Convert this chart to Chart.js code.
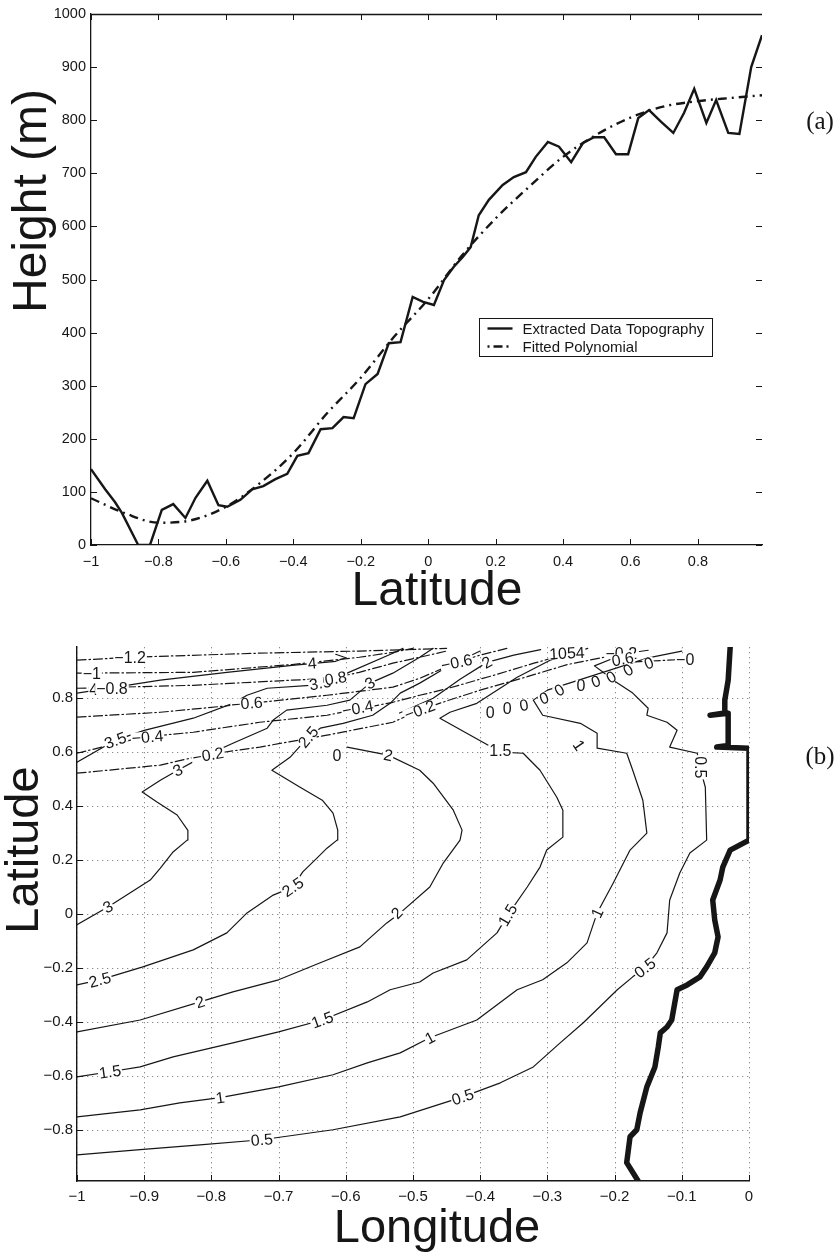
<!DOCTYPE html>
<html>
<head>
<meta charset="utf-8">
<script src="https://cdn.jsdelivr.net/npm/chart.js@4.4.1/dist/chart.umd.min.js"></script>
<style>
  html, body { margin: 0; padding: 0; background: #fff; }
  #wrap { position: relative; width: 840px; height: 1253px; }
  #chartA { position: absolute; left: 0; top: 0; width: 840px; height: 620px; }
  #chartB { position: absolute; left: 0; top: 620px; width: 840px; height: 633px; }
</style>
</head>
<body>
<div id="wrap">
  <canvas id="chartA" width="840" height="620"></canvas>
  <canvas id="chartB" width="840" height="633"></canvas>
</div>
<script>
const FONT = '"Liberation Sans", Arial, Helvetica, sans-serif';
const SERIF = '"Liberation Serif", "DejaVu Serif", serif';
const INK = '#161616';

// ---- panel (a): topography along latitude ----
const topoLat = [-1, -0.958, -0.929, -0.908, -0.86, -0.825, -0.79, -0.756, -0.72, -0.69,
  -0.655, -0.622, -0.596, -0.557, -0.522, -0.489, -0.453, -0.418, -0.388, -0.355,
  -0.319, -0.284, -0.251, -0.221, -0.186, -0.15, -0.117, -0.082, -0.046, -0.015,
  0.017, 0.047, 0.076, 0.102, 0.126, 0.15, 0.18, 0.221, 0.254, 0.29,
  0.319, 0.355, 0.388, 0.424, 0.459, 0.492, 0.522, 0.557, 0.593, 0.623,
  0.655, 0.691, 0.727, 0.759, 0.789, 0.825, 0.854, 0.89, 0.923, 0.958, 0.99];
const topoHeight = [143, 105, 81, 60, 0, 0, 66, 77, 51, 89,
  121, 75, 72, 85, 105, 111, 124, 134, 168, 173,
  218, 220, 241, 239, 303, 322, 380, 382, 467, 458,
  452, 499, 524, 542, 561, 621, 650, 678, 693, 702,
  731, 759, 750, 721, 757, 768, 768, 736, 736, 804,
  819, 797, 776, 814, 859, 795, 838, 776, 774, 900, 960];
const polyLat = [-1, -0.9, -0.8, -0.7, -0.6, -0.5, -0.4, -0.3, -0.2, -0.1, 0,
  0.1, 0.2, 0.3, 0.4, 0.5, 0.6, 0.7, 0.8, 0.9, 0.99];
const polyHeight = [88, 60, 42, 47, 72, 116, 173, 248, 315, 393, 463,
  545, 615, 675, 731, 773, 805, 826, 836, 842, 847];
const heightTicks = [0, 100, 200, 300, 400, 500, 600, 700, 800, 900, 1000];
const latTicksA = [-1, -0.8, -0.6, -0.4, -0.2, 0, 0.2, 0.4, 0.6, 0.8];

// ---- panel (b): contours over longitude / latitude ----
const lonTicks = [-1, -0.9, -0.8, -0.7, -0.6, -0.5, -0.4, -0.3, -0.2, -0.1, 0];
const latTicksB = [-0.8, -0.6, -0.4, -0.2, 0, 0.2, 0.4, 0.6, 0.8];

const contour4 = [[-1, 0.819], [-0.876, 0.867], [-0.777, 0.896], [-0.68, 0.922], [-0.615, 0.937], [-0.6, 0.95], [-0.615, 0.963]];
const contour35 = [[-1, 0.563], [-0.943, 0.644], [-0.9, 0.681], [-0.827, 0.726], [-0.768, 0.781], [-0.747, 0.811],
  [-0.717, 0.837], [-0.653, 0.848], [-0.62, 0.86], [-0.598, 0.893], [-0.53, 0.967], [-0.515, 0.985]];
const contour3 = [[-1, -0.04], [-0.954, 0.026], [-0.891, 0.126], [-0.876, 0.17], [-0.857, 0.23], [-0.836, 0.274],
  [-0.835, 0.31], [-0.851, 0.367], [-0.881, 0.415], [-0.903, 0.452], [-0.876, 0.496], [-0.85, 0.533],
  [-0.817, 0.578], [-0.768, 0.633], [-0.717, 0.689], [-0.708, 0.719], [-0.688, 0.756], [-0.628, 0.774],
  [-0.594, 0.793], [-0.564, 0.856], [-0.53, 0.893], [-0.49, 0.952], [-0.47, 0.985]];
const contour25 = [[-1, -0.263], [-0.966, -0.244], [-0.902, -0.196], [-0.827, -0.133], [-0.777, -0.07], [-0.747, 0.004],
  [-0.708, 0.07], [-0.679, 0.1], [-0.664, 0.156], [-0.643, 0.207], [-0.628, 0.244], [-0.613, 0.274], [-0.612, 0.311],
  [-0.619, 0.374], [-0.635, 0.422], [-0.668, 0.47], [-0.71, 0.533], [-0.683, 0.581], [-0.656, 0.656], [-0.638, 0.689],
  [-0.604, 0.707], [-0.56, 0.737], [-0.534, 0.781], [-0.519, 0.819], [-0.49, 0.856], [-0.46, 0.9], [-0.43, 0.94], [-0.4, 0.975]];
const contour2 = [[-1, -0.437], [-0.906, -0.393], [-0.817, -0.326], [-0.768, -0.289], [-0.7, -0.244], [-0.638, -0.181],
  [-0.579, -0.122], [-0.539, -0.033], [-0.519, 0.004], [-0.475, 0.1], [-0.455, 0.189], [-0.43, 0.274], [-0.427, 0.311],
  [-0.44, 0.385], [-0.47, 0.485], [-0.49, 0.533], [-0.537, 0.589], [-0.598, 0.619]];
const contour2top = [[-0.52, 0.745], [-0.47, 0.8], [-0.43, 0.87], [-0.39, 0.933], [-0.35, 0.96], [-0.31, 0.98]];
const contour15 = [[-1, -0.604], [-0.951, -0.585], [-0.906, -0.567], [-0.857, -0.53], [-0.768, -0.478], [-0.7, -0.437],
  [-0.635, -0.393], [-0.568, -0.326], [-0.534, -0.281], [-0.49, -0.252], [-0.47, -0.219], [-0.42, -0.17], [-0.375, -0.07],
  [-0.359, -0.004], [-0.33, 0.1], [-0.311, 0.174], [-0.301, 0.237], [-0.277, 0.285], [-0.277, 0.385], [-0.286, 0.433],
  [-0.311, 0.533], [-0.336, 0.596], [-0.37, 0.6], [-0.388, 0.626], [-0.46, 0.726], [-0.445, 0.748], [-0.405, 0.781],
  [-0.375, 0.83], [-0.345, 0.878], [-0.296, 0.941], [-0.262, 0.967], [-0.24, 0.985]];
const contour1 = [[-1, -0.752], [-0.906, -0.726], [-0.847, -0.7], [-0.787, -0.681], [-0.7, -0.641], [-0.619, -0.596],
  [-0.568, -0.552], [-0.519, -0.515], [-0.475, -0.459], [-0.405, -0.393], [-0.345, -0.281], [-0.307, -0.244],
  [-0.271, -0.181], [-0.241, -0.107], [-0.226, 0.004], [-0.202, 0.115], [-0.177, 0.237], [-0.152, 0.3], [-0.158, 0.422],
  [-0.173, 0.533], [-0.182, 0.596], [-0.226, 0.615], [-0.226, 0.67], [-0.251, 0.707], [-0.307, 0.737], [-0.321, 0.793],
  [-0.3, 0.83], [-0.25, 0.87], [-0.2, 0.91], [-0.15, 0.95], [-0.1, 0.975]];
const contour05 = [[-1, -0.893], [-0.906, -0.874], [-0.817, -0.856], [-0.725, -0.837], [-0.619, -0.8], [-0.519, -0.752],
  [-0.426, -0.678], [-0.37, -0.626], [-0.321, -0.567], [-0.281, -0.478], [-0.247, -0.404], [-0.222, -0.344],
  [-0.196, -0.281], [-0.173, -0.233], [-0.155, -0.2], [-0.137, -0.144], [-0.122, -0.07], [-0.118, 0.052],
  [-0.103, 0.152], [-0.088, 0.226], [-0.063, 0.274], [-0.065, 0.47], [-0.073, 0.544], [-0.077, 0.596],
  [-0.118, 0.619], [-0.107, 0.681], [-0.122, 0.711], [-0.152, 0.737], [-0.15, 0.763], [-0.173, 0.819],
  [-0.202, 0.867], [-0.217, 0.896], [-0.23, 0.92], [-0.2, 0.95], [-0.17, 0.97]];

const negative12 = [[-1, 0.941], [-0.92, 0.952], [-0.73, 0.967], [-0.58, 0.975], [-0.45, 0.985]];
const negative10 = [[-1, 0.893], [-0.827, 0.896], [-0.68, 0.925], [-0.58, 0.952], [-0.53, 0.97], [-0.5, 0.985]];
const negative08 = [[-1, 0.837], [-0.827, 0.848], [-0.68, 0.867], [-0.62, 0.874], [-0.58, 0.896], [-0.53, 0.93],
  [-0.49, 0.952], [-0.45, 0.975]];
const negative06 = [[-1, 0.73], [-0.876, 0.748], [-0.768, 0.774], [-0.628, 0.811], [-0.53, 0.841], [-0.49, 0.874],
  [-0.435, 0.933], [-0.4, 0.96], [-0.36, 0.985]];
const negative04 = [[-1, 0.596], [-0.902, 0.656], [-0.827, 0.674], [-0.728, 0.711], [-0.628, 0.737], [-0.53, 0.785],
  [-0.49, 0.811], [-0.45, 0.835], [-0.38, 0.885], [-0.32, 0.93], [-0.27, 0.965], [-0.24, 0.985]];
const negative02 = [[-1, 0.522], [-0.876, 0.552], [-0.812, 0.589], [-0.728, 0.619], [-0.628, 0.663], [-0.53, 0.711],
  [-0.49, 0.756], [-0.45, 0.79], [-0.4, 0.83], [-0.33, 0.88], [-0.27, 0.925], [-0.2, 0.96], [-0.15, 0.978]];
const negative00 = [[-0.17, 0.935], [-0.13, 0.94], [-0.09, 0.945]];

const coastline = [[-0.165, -0.99], [-0.182, -0.922], [-0.177, -0.826], [-0.167, -0.8], [-0.162, -0.737],
  [-0.152, -0.641], [-0.14, -0.567], [-0.135, -0.493], [-0.132, -0.441], [-0.122, -0.419], [-0.115, -0.393],
  [-0.107, -0.281], [-0.092, -0.263], [-0.073, -0.233], [-0.063, -0.196], [-0.051, -0.144], [-0.046, -0.085],
  [-0.051, -0.022], [-0.054, 0.052], [-0.043, 0.126], [-0.039, 0.174], [-0.028, 0.237], [0, 0.274], [0, 0.615],
  [-0.048, 0.619], [-0.031, 0.625], [-0.031, 0.744], [-0.058, 0.737], [-0.036, 0.745], [-0.036, 0.793],
  [-0.031, 0.867], [-0.028, 0.99]];

// text, lon, lat, rotation (deg)
const contourLabels = [
  ['3', -0.954, 0.026, -28], ['2.5', -0.966, -0.244, -15], ['2', -0.817, -0.326, -18],
  ['1.5', -0.951, -0.585, -8], ['1.5', -0.635, -0.393, -20], ['1', -0.787, -0.681, -8],
  ['0.5', -0.725, -0.837, -5], ['1', -0.475, -0.459, -28], ['0.5', -0.426, -0.678, -18],
  ['0.5', -0.155, -0.2, -38], ['2.5', -0.679, 0.1, -35], ['2', -0.524, 0.004, -45],
  ['1.5', -0.359, -0.004, -60], ['1', -0.226, 0.004, -65],
  ['\u22121.2', -0.921, 0.952, 0], ['\u22121', -0.978, 0.893, 0], ['4', -0.975, 0.833, 0],
  ['\u22120.8', -0.948, 0.837, 0], ['3.5', -0.943, 0.644, -20], ['\u22120.4', -0.895, 0.656, -5],
  ['3', -0.85, 0.533, -25], ['\u22120.2', -0.805, 0.589, -10], ['\u22120.6', -0.747, 0.781, -5],
  ['4', -0.65, 0.93, -5], ['3.5', -0.638, 0.856, -10], ['0.8', -0.615, 0.874, -10],
  ['3', -0.564, 0.856, -30], ['2.5', -0.656, 0.656, -50], ['\u22120.4', -0.582, 0.763, -10],
  ['0', -0.613, 0.589, 0], ['2', -0.537, 0.589, 12], ['\u22120.6', -0.435, 0.933, -12],
  ['2', -0.39, 0.933, -30], ['\u22120.2', -0.49, 0.756, -20], ['1.5', -0.37, 0.607, 0],
  ['0.5', -0.073, 0.544, 90], ['1', -0.253, 0.626, 55], ['1054', -0.271, 0.967, -3],
  ['\u22120.2', -0.19, 0.967, 0], ['0.6', -0.188, 0.945, -10], ['0', -0.149, 0.93, -20],
  ['\u22120', -0.095, 0.944, 0],
  ['0', -0.385, 0.748, 0], ['0', -0.36, 0.763, 0], ['0', -0.335, 0.774, -10], ['0', -0.305, 0.8, -20],
  ['0', -0.282, 0.83, -30], ['0', -0.25, 0.848, 0], ['0', -0.228, 0.862, -20], ['0', -0.205, 0.878, -30],
  ['0', -0.18, 0.904, -30]
];

function fmt(v) {
  const s = String(Math.round(v * 1000) / 1000);
  return s.replace('-', '\u2212');
}
function toXY(pts) { return pts.map(([x, y]) => ({ x, y })); }
function seg(ctx, x1, y1, x2, y2) { ctx.beginPath(); ctx.moveTo(x1, y1); ctx.lineTo(x2, y2); ctx.stroke(); }

// inward tick marks (MATLAB style), optional full box
function inwardTicks(len, box) {
  return {
    id: 'inwardTicks',
    afterDraw(chart) {
      const { ctx, chartArea: a, scales: { x, y } } = chart;
      ctx.save();
      ctx.strokeStyle = INK;
      ctx.lineWidth = 1;
      x.ticks.forEach(t => {
        const px = Math.round(x.getPixelForValue(t.value)) + 0.5;
        seg(ctx, px, a.bottom, px, a.bottom - len);
        if (box) seg(ctx, px, a.top, px, a.top + len);
      });
      y.ticks.forEach(t => {
        const py = Math.round(y.getPixelForValue(t.value)) + 0.5;
        seg(ctx, a.left, py, a.left + len, py);
        if (box) seg(ctx, a.right, py, a.right - len, py);
      });
      if (box) {
        ctx.lineWidth = 1.3;
        seg(ctx, a.left, a.top + 0.5, a.right, a.top + 0.5);
      }
      ctx.restore();
    }
  };
}

// free text: axis titles and panel letters
function panelText(items) {
  return {
    id: 'panelText',
    afterDraw(chart) {
      const ctx = chart.ctx;
      items.forEach(it => {
        ctx.save();
        ctx.fillStyle = INK;
        ctx.font = it.font;
        ctx.textAlign = 'center';
        ctx.textBaseline = it.baseline || 'alphabetic';
        ctx.translate(it.x, it.y);
        if (it.rot) ctx.rotate(it.rot);
        ctx.fillText(it.text, 0, 0);
        ctx.restore();
      });
    }
  };
}

const legendBox = {
  id: 'legendBox',
  afterDraw(chart) {
    const { ctx, chartArea: a } = chart;
    const x0 = a.left + 388.5, y0 = a.top + 304.5, w = 233, h = 38;
    ctx.save();
    ctx.fillStyle = '#fff';
    ctx.fillRect(x0, y0, w, h);
    ctx.strokeStyle = INK;
    ctx.lineWidth = 1;
    ctx.strokeRect(x0, y0, w, h);
    ctx.font = '15px ' + FONT;
    ctx.textBaseline = 'middle';
    chart.data.datasets.forEach((ds, i) => {
      const yy = y0 + 10 + i * 18;
      ctx.strokeStyle = ds.borderColor;
      ctx.lineWidth = ds.borderWidth;
      ctx.setLineDash(ds.borderDash ? [2, 4, 9, 4] : []);
      seg(ctx, x0 + 8, yy, x0 + 33, yy);
      ctx.setLineDash([]);
      ctx.fillStyle = INK;
      ctx.fillText(ds.label, x0 + 43, yy + 1);
    });
    ctx.restore();
  }
};

const contourText = {
  id: 'contourText',
  afterDatasetsDraw(chart) {
    const { ctx, scales: { x, y } } = chart;
    ctx.save();
    ctx.font = '16px ' + FONT;
    ctx.textAlign = 'center';
    ctx.textBaseline = 'middle';
    contourLabels.forEach(([txt, lon, lat, rot]) => {
      const px = x.getPixelForValue(lon), py = y.getPixelForValue(lat);
      const w = ctx.measureText(txt).width;
      ctx.save();
      ctx.translate(px, py);
      ctx.rotate(rot * Math.PI / 180);
      ctx.fillStyle = '#fff';
      ctx.fillRect(-w / 2 - 1, -5.5, w + 2, 11);
      ctx.fillStyle = INK;
      ctx.fillText(txt, 0, 1);
      ctx.restore();
    });
    ctx.restore();
  }
};

const dottedGrid = {
  id: 'dottedGrid',
  beforeDatasetsDraw(chart) {
    const { ctx, chartArea: a, scales: { x, y } } = chart;
    ctx.save();
    ctx.strokeStyle = '#8c8c8c';
    ctx.lineWidth = 1;
    ctx.setLineDash([1.3, 3.7]);
    x.ticks.forEach(t => {
      const px = Math.round(x.getPixelForValue(t.value)) + 0.5;
      seg(ctx, px, a.top, px, a.bottom);
    });
    y.ticks.forEach(t => {
      const py = Math.round(y.getPixelForValue(t.value)) + 0.5;
      seg(ctx, a.left, py, a.right, py);
    });
    ctx.restore();
  }
};

function axisTicks(values, size, pad) {
  return {
    padding: pad, autoSkip: false, maxRotation: 0, color: INK,
    font: { family: FONT, size: size },
    callback: v => fmt(v)
  };
}

// ---------- chart (a) ----------
new Chart(document.getElementById('chartA'), {
  type: 'line',
  data: {
    datasets: [
      {
        label: 'Extracted Data Topography',
        data: topoLat.map((v, i) => ({ x: v, y: topoHeight[i] })),
        borderColor: INK, borderWidth: 2.4, pointRadius: 0, tension: 0, fill: false
      },
      {
        label: 'Fitted Polynomial',
        data: polyLat.map((v, i) => ({ x: v, y: polyHeight[i] })),
        borderColor: INK, borderWidth: 2.4, borderDash: [9, 5, 2, 5], pointRadius: 0,
        cubicInterpolationMode: 'monotone', fill: false
      }
    ]
  },
  options: {
    responsive: false, animation: false, devicePixelRatio: 1,
    layout: { padding: { left: 0, top: 14, right: 78, bottom: 45 } },
    scales: {
      x: {
        type: 'linear', min: -1, max: 0.99,
        afterBuildTicks: s => { s.ticks = latTicksA.map(v => ({ value: v })); },
        afterFit: s => { s.height = 30; },
        grid: { display: false, drawTicks: false },
        border: { display: true, color: INK, width: 1.3 },
        ticks: axisTicks(latTicksA, 14.5, 8)
      },
      y: {
        type: 'linear', min: 0, max: 1000,
        afterBuildTicks: s => { s.ticks = heightTicks.map(v => ({ value: v })); },
        afterFit: s => { s.width = 91; },
        grid: { display: false, drawTicks: false },
        border: { display: true, color: INK, width: 1.3 },
        ticks: axisTicks(heightTicks, 14.5, 5)
      }
    },
    plugins: { legend: { display: false }, tooltip: { enabled: false } }
  },
  plugins: [
    inwardTicks(6, true),
    legendBox,
    panelText([
      { text: 'Height (m)', x: 46, y: 201, rot: -Math.PI / 2, font: '48px ' + FONT },
      { text: 'Latitude', x: 437, y: 605, font: '48px ' + FONT },
      { text: '(a)', x: 820, y: 122, baseline: 'middle', font: '25px ' + SERIF }
    ])
  ]
});

// ---------- chart (b) ----------
const contourSets = [
  { pts: contour4, kind: 'solid' }, { pts: contour35, kind: 'solid' }, { pts: contour3, kind: 'solid' },
  { pts: contour25, kind: 'solid' }, { pts: contour2, kind: 'solid' }, { pts: contour2top, kind: 'solid' },
  { pts: contour15, kind: 'solid' }, { pts: contour1, kind: 'solid' }, { pts: contour05, kind: 'solid' },
  { pts: negative12, kind: 'dash' }, { pts: negative10, kind: 'dash' }, { pts: negative08, kind: 'dash' },
  { pts: negative06, kind: 'dash' }, { pts: negative04, kind: 'dash' }, { pts: negative02, kind: 'dash' },
  { pts: negative00, kind: 'dash' },
  { pts: coastline, kind: 'coast' }
];

new Chart(document.getElementById('chartB'), {
  type: 'scatter',
  data: {
    datasets: contourSets.map(c => ({
      data: toXY(c.pts),
      showLine: true,
      borderColor: INK,
      borderWidth: c.kind === 'coast' ? 5.5 : 1.2,
      borderDash: c.kind === 'dash' ? [9, 3, 1.5, 3] : [],
      borderJoinStyle: 'round',
      borderCapStyle: 'round',
      pointRadius: 0, tension: 0, fill: false
    }))
  },
  options: {
    responsive: false, animation: false, devicePixelRatio: 1,
    layout: { padding: { left: 0, top: 27, right: 91, bottom: 42 } },
    scales: {
      x: {
        type: 'linear', min: -1, max: 0,
        afterBuildTicks: s => { s.ticks = lonTicks.map(v => ({ value: v })); },
        afterFit: s => { s.height = 30; },
        grid: { display: false, drawTicks: false },
        border: { display: true, color: INK, width: 1.4 },
        ticks: axisTicks(lonTicks, 15, 7)
      },
      y: {
        type: 'linear', min: -0.99, max: 0.99,
        afterBuildTicks: s => { s.ticks = latTicksB.map(v => ({ value: v })); },
        afterFit: s => { s.width = 77; },
        grid: { display: false, drawTicks: false },
        border: { display: true, color: INK, width: 1.4 },
        ticks: axisTicks(latTicksB, 15, 4)
      }
    },
    plugins: { legend: { display: false }, tooltip: { enabled: false } }
  },
  plugins: [
    dottedGrid,
    contourText,
    inwardTicks(6, false),
    panelText([
      { text: 'Latitude', x: 38, y: 230, rot: -Math.PI / 2, font: '47px ' + FONT },
      { text: 'Longitude', x: 437, y: 622, font: '47px ' + FONT },
      { text: '(b)', x: 820, y: 137, baseline: 'middle', font: '25px ' + SERIF }
    ])
  ]
});
</script>
</body>
</html>
